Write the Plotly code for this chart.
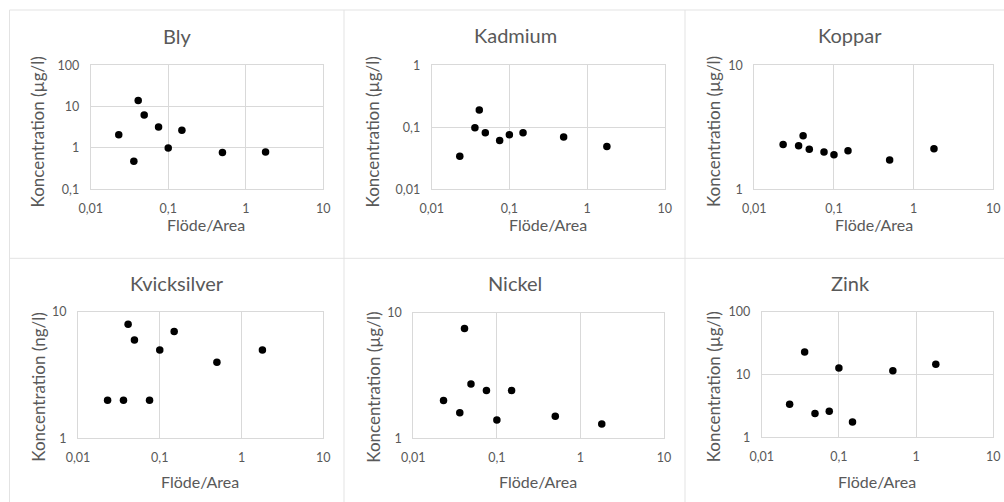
import plotly.graph_objects as go

# ---- data ----
flow = [0.023, 0.036, 0.041, 0.049, 0.075, 0.1, 0.15, 0.5, 1.8]
bly = [2.1, 0.48, 14.0, 6.3, 3.2, 1.0, 2.7, 0.78, 0.8]
kadmium = [0.034, 0.098, 0.19, 0.082, 0.061, 0.076, 0.082, 0.07, 0.049]
koppar = [2.3, 2.25, 2.7, 2.1, 2.0, 1.9, 2.05, 1.72, 2.12]
kvicksilver = [2, 2, 8, 6, 2, 5, 7, 4, 5]
nickel = [2.0, 1.6, 7.5, 2.7, 2.4, 1.4, 2.4, 1.5, 1.3]
zink = [3.35, 22.8, None, 2.4, 2.6, 12.7, 1.75, 11.5, 14.5]

titles = ["Bly", "Kadmium", "Koppar", "Kvicksilver", "Nickel", "Zink"]
series = [bly, kadmium, koppar, kvicksilver, nickel, zink]
ytitles = ["Koncentration (µg/l)", "Koncentration (µg/l)", "Koncentration (µg/l)",
           "Koncentration (ng/l)", "Koncentration (µg/l)", "Koncentration (µg/l)"]
xtitle = "Flöde/Area"
x_tickvals = [0.01, 0.1, 1, 10]
x_ticktext = ["0,01", "0,1", "1", "10"]
y_ticks = [
    ([0.1, 1, 10, 100], ["0,1", "1", "10", "100"]),
    ([0.01, 0.1, 1], ["0,01", "0,1", "1"]),
    ([1, 10], ["1", "10"]),
    ([1, 10], ["1", "10"]),
    ([1, 10], ["1", "10"]),
    ([1, 10, 100], ["1", "10", "100"]),
]
y_ranges = [[-1, 2], [-2, 0], [0, 1], [0, 1], [0, 1], [0, 2]]

# ---- layout (pixel boxes of plot areas) ----
W, H = 1004, 502
plot_boxes = [  # left, right, top, bottom
    (90.7, 323.3, 65.3, 189.3),
    (431.7, 664.7, 65.3, 189.3),
    (754.3, 993.3, 65.3, 189.3),
    (78.0, 323.3, 312.0, 438.3),
    (413.3, 664.0, 312.7, 438.3),
    (761.7, 993.3, 311.7, 437.3),
]
title_pos = [(177, 36), (515, 35), (850, 35), (177, 283), (515, 283), (850, 283)]
xtitle_pos = [(206, 224), (548, 224), (874, 224), (200, 481), (538, 481), (877, 481)]
ytitle_pos = [(37.7, 131.7), (372.7, 131.7), (713.3, 131.7),
              (37.7, 387), (372.7, 387), (713.3, 387)]

FONT = "Lato, 'Open Sans', sans-serif"
TXT = "#595959"
GRID = "#d9d9d9"

fig = go.Figure()
annotations = []
for i in range(6):
    n = i + 1
    xa = "x" if n == 1 else f"x{n}"
    ya = "y" if n == 1 else f"y{n}"
    fig.add_trace(go.Scatter(
        x=flow, y=series[i], mode="markers", xaxis=xa, yaxis=ya,
        marker=dict(color="black", size=7.5), showlegend=False,
        hoverinfo="x+y"))
    l, r, t, b = plot_boxes[i]
    fig.layout[f"xaxis{'' if n == 1 else n}"] = dict(
        type="log", range=[-2, 1], domain=[l / W, r / W], anchor=ya,
        tickvals=x_tickvals, ticktext=x_ticktext, showgrid=True, gridcolor=GRID,
        gridwidth=1, showline=True, linecolor=GRID, mirror=True, zeroline=False,
        ticks="", ticklabelstandoff=8, automargin=False,
        tickfont=dict(family=FONT, size=12.5, color=TXT))
    tv, tt = y_ticks[i]
    fig.layout[f"yaxis{'' if n == 1 else n}"] = dict(
        type="log", range=y_ranges[i], domain=[1 - b / H, 1 - t / H], anchor=xa,
        tickvals=tv, ticktext=tt, showgrid=True, gridcolor=GRID, gridwidth=1,
        showline=True, linecolor=GRID, mirror=True, zeroline=False,
        ticks="", ticklabelstandoff=8, automargin=False,
        tickfont=dict(family=FONT, size=12.5, color=TXT))
    tx, ty = title_pos[i]
    annotations.append(dict(text=titles[i], x=tx / W, y=1 - ty / H, xref="paper", yref="paper",
                            showarrow=False, xanchor="center", yanchor="middle",
                            font=dict(family=FONT, size=20, color=TXT)))
    ax, ay = xtitle_pos[i]
    annotations.append(dict(text=xtitle, x=ax / W, y=1 - ay / H, xref="paper", yref="paper",
                            showarrow=False, xanchor="center", yanchor="middle",
                            font=dict(family=FONT, size=16, color=TXT)))
    yx, yy = ytitle_pos[i]
    annotations.append(dict(text=ytitles[i], x=yx / W, y=1 - yy / H, xref="paper", yref="paper",
                            showarrow=False, xanchor="center", yanchor="middle", textangle=-90,
                            font=dict(family=FONT, size=17, color=TXT)))

# chart-box borders
shapes = []
BORDER = "#e3e3e3"
for xv in [9.5, 344, 685]:
    shapes.append(dict(type="line", xref="paper", yref="paper", x0=xv / W, x1=xv / W,
                       y0=0, y1=1 - 10 / H, line=dict(color=BORDER, width=1)))
for yv in [10, 258.3]:
    shapes.append(dict(type="line", xref="paper", yref="paper", x0=9.5 / W, x1=1,
                       y0=1 - yv / H, y1=1 - yv / H, line=dict(color=BORDER, width=1)))

fig.update_layout(width=W, height=H, margin=dict(l=0, r=0, t=0, b=0, autoexpand=False),
                  paper_bgcolor="white", plot_bgcolor="white",
                  annotations=annotations, shapes=shapes, showlegend=False)
fig.write_html("out.html", config={"displayModeBar": False},
               post_script="document.body.style.margin='0';document.body.style.overflow='hidden';")
